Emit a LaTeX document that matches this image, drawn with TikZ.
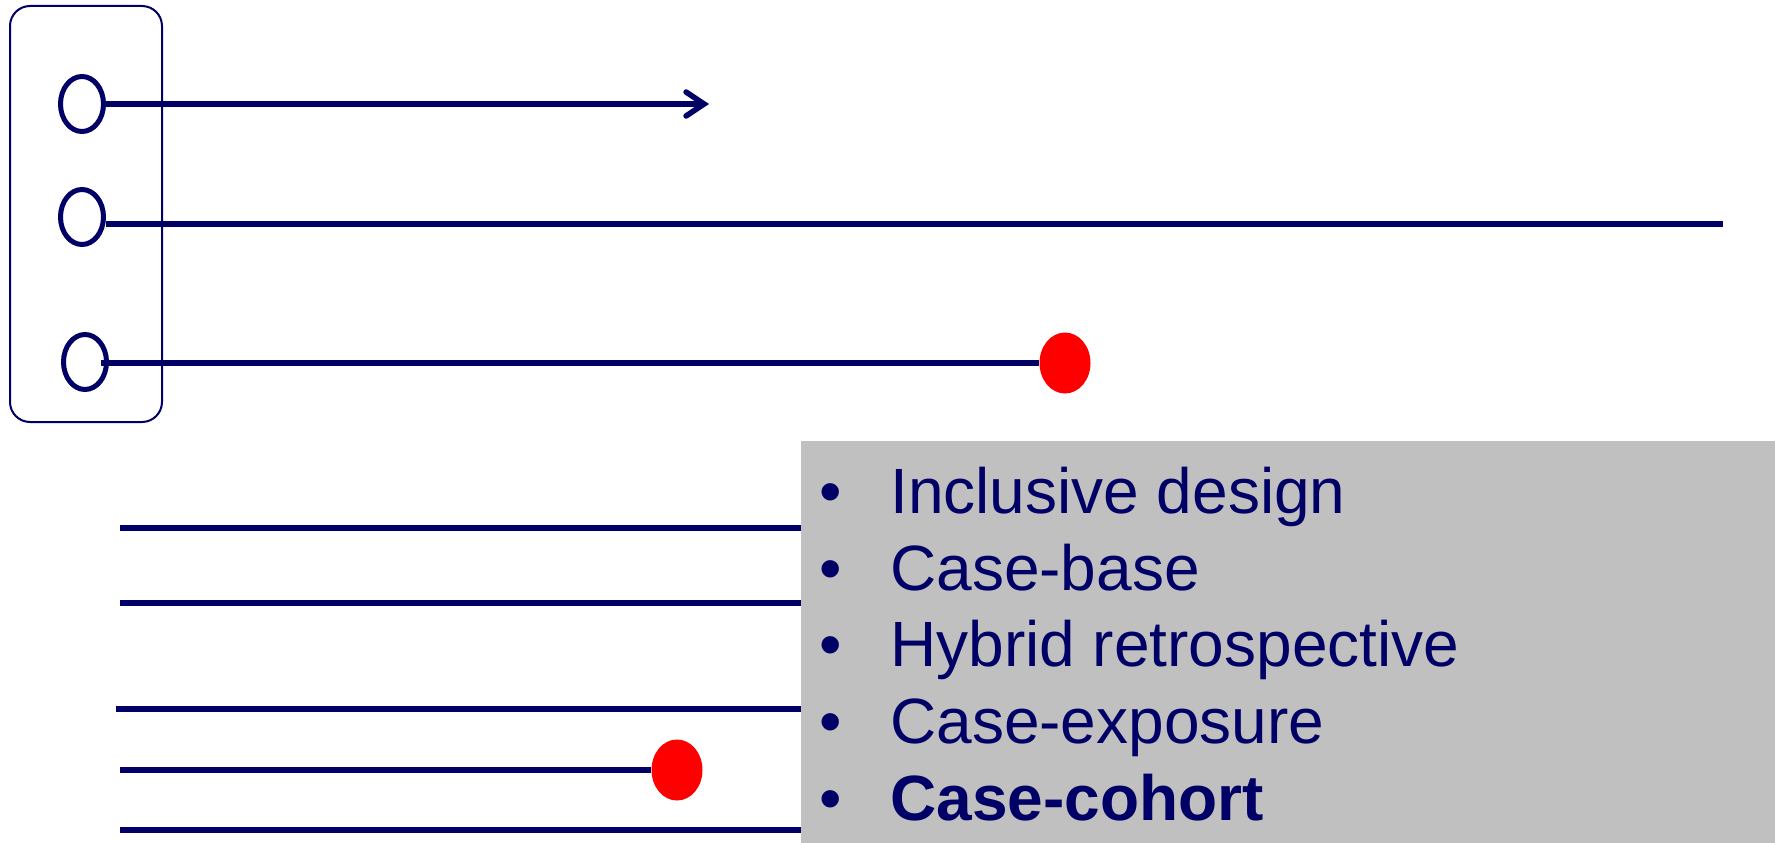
\documentclass[tikz,border=0pt]{standalone}
\usepackage{fontspec}
\setmainfont{Liberation Sans}
\usetikzlibrary{arrows.meta,shapes.geometric}
\definecolor{navy}{HTML}{000066}
\definecolor{panelgray}{HTML}{C0C0C0}
\begin{document}
\begin{tikzpicture}[x=1pt,y=-1pt,
  subj/.style={draw=navy,line width=5pt,ellipse,minimum width=43pt,minimum height=55pt,inner sep=0pt},
  evt/.style={fill=red,draw=none,ellipse,minimum width=51pt,minimum height=61pt,inner sep=0pt},
  tl/.style={draw=navy,line width=5.5pt},
  itm/.style={anchor=base west,inner sep=0pt,text=navy,font=\fontsize{64pt}{64pt}\selectfont},
  bul/.style={anchor=base,inner sep=0pt,text=navy,font=\fontsize{64pt}{64pt}\selectfont}]
\useasboundingbox (0,0) rectangle (1775,843);
% cohort box
\draw[navy,line width=2pt,rounded corners=20pt] (10,6) rectangle (162,422);
\node[subj] (c1) at (82,104) {};
\node[subj] (c2) at (82,217) {};
\node[subj] (c3) at (85,362) {};
\coordinate (a1) at (709,104);
\coordinate (e2) at (1723,224);
\coordinate (s3) at (101,363);
\node[evt] (r1) at (1065,363) {};
\draw[tl,-{Straight Barb[length=18pt,width=24pt,line cap=round]}] (c1.east) -- (a1);
\draw[tl] (c2.east |- e2) -- (e2);
\draw[tl] (s3) -- (r1.west);
% bottom timelines
\coordinate (b1s) at (120,528); \coordinate (b1e) at (801,528);
\coordinate (b2s) at (120,603); \coordinate (b2e) at (801,603);
\coordinate (b3s) at (116,709); \coordinate (b3e) at (801,709);
\coordinate (b4s) at (120,770);
\coordinate (b5s) at (120,830); \coordinate (b5e) at (801,830);
\node[evt] (r2) at (677,770) {};
\draw[tl] (b1s) -- (b1e);
\draw[tl] (b2s) -- (b2e);
\draw[tl] (b3s) -- (b3e);
\draw[tl] (b4s) -- (r2.west);
\draw[tl] (b5s) -- (b5e);
% panel
\fill[panelgray] (801,441) rectangle (1775,843);
\node[bul] (d1) at (831,513) {•};
\node[bul] (d2) at (831,590) {•};
\node[bul] (d3) at (831,666) {•};
\node[bul] (d4) at (831,743) {•};
\node[bul] (d5) at (831,820) {•};
\node[itm] (t1) at (890,513) {Inclusive design};
\node[itm] (t2) at (890,590) {Case-base};
\node[itm] (t3) at (890,666) {Hybrid retrospective};
\node[itm] (t4) at (890,743) {Case-exposure};
\node[itm] (t5) at (890,820) {\bfseries Case-cohort};
\end{tikzpicture}
\end{document}
